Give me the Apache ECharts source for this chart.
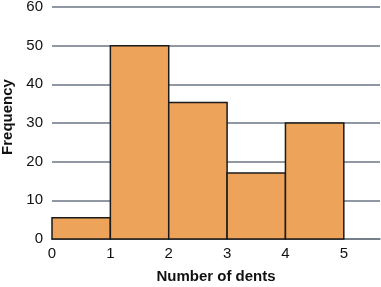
<!DOCTYPE html>
<html><head><meta charset="utf-8">
<script src="https://cdn.jsdelivr.net/npm/echarts@6/dist/echarts.min.js"></script>
<style>html,body{margin:0;padding:0;background:#fff}#c{width:381px;height:287px}</style>
</head><body><div id="c"></div>
<script>
var binStarts = [0, 1, 2, 3, 4];
var binEnds = [1, 2, 3, 4, 5];
var frequencies = [5.5, 50, 35.3, 17.1, 30];
var xTicks = [0, 1, 2, 3, 4, 5];
var yTicks = [0, 10, 20, 30, 40, 50, 60];

var data = binStarts.map(function (s, i) { return [s, binEnds[i], frequencies[i]]; });
var chart = echarts.init(document.getElementById('c'), null, {renderer: 'canvas'});
chart.setOption({
  animation: false,
  grid: {left: 52, right: 1, top: 7, bottom: 48, containLabel: false, outerBoundsMode: 'none'},
  xAxis: {
    type: 'value', min: 0, max: 5.62, interval: 1,
    name: 'Number of dents', nameLocation: 'middle', nameGap: 30,
    nameTextStyle: {fontFamily: 'Liberation Sans', fontWeight: 'bold', fontSize: 15, color: '#111'},
    axisLine: {show: true, lineStyle: {color: '#6b7785', width: 1.5}},
    axisTick: {show: false},
    splitLine: {show: false},
    axisLabel: {
      fontFamily: 'Liberation Sans', fontSize: 15, color: '#111', margin: 7,
      showMaxLabel: false,
      formatter: function (v) { return xTicks.indexOf(v) >= 0 ? String(v) : ''; }
    }
  },
  yAxis: {
    type: 'value', min: 0, max: 60, interval: 10,
    name: 'Frequency', nameLocation: 'middle', nameGap: 35,
    nameTextStyle: {fontFamily: 'Liberation Sans', fontWeight: 'bold', fontSize: 15, color: '#111', padding: [0, 0, 0, 12]},
    axisLine: {show: false}, axisTick: {show: false},
    splitLine: {show: true, lineStyle: {color: '#6b7785', width: 1.5}},
    axisLabel: {
      fontFamily: 'Liberation Sans', fontSize: 15, color: '#111', margin: 9,
      formatter: function (v) { return yTicks.indexOf(v) >= 0 ? String(v) : ''; }
    }
  },
  series: [{
    type: 'custom',
    data: data,
    encode: {x: [0, 1], y: 2},
    renderItem: function (params, api) {
      var p0 = api.coord([api.value(0), api.value(2)]);
      var p1 = api.coord([api.value(1), 0]);
      return {
        type: 'rect',
        shape: {x: p0[0], y: p0[1], width: p1[0] - p0[0], height: p1[1] - p0[1]},
        style: {fill: '#eda45a', stroke: '#1a1a1a', lineWidth: 1.5}
      };
    }
  }]
});
</script></body></html>
